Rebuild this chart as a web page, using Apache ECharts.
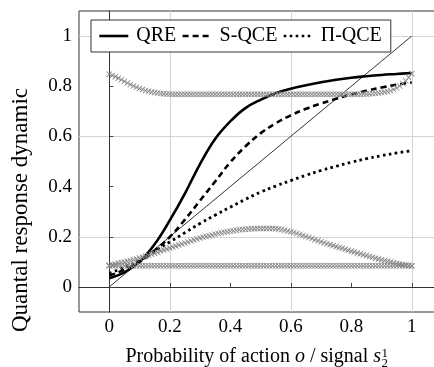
<!DOCTYPE html>
<html><head><meta charset="utf-8">
<script src="https://cdn.jsdelivr.net/npm/echarts@6/dist/echarts.min.js"></script>
<style>html,body{margin:0;padding:0;background:#fff}#c{width:434px;height:367px}</style>
</head><body><div id="c"></div>
<script>
const tickValues = [0, 0.2, 0.4, 0.6, 0.8, 1];
const curveX = [0,0.05,0.1,0.15,0.2,0.25,0.3,0.35,0.4,0.45,0.5,0.55,0.6,0.65,0.7,0.75,0.8,0.85,0.9,0.95,1];
const qre   = [0.035,0.058,0.100,0.170,0.265,0.372,0.490,0.590,0.660,0.713,0.746,0.772,0.790,0.804,0.816,0.826,0.834,0.840,0.845,0.849,0.853];
const sqce  = [0.045,0.068,0.100,0.145,0.199,0.268,0.344,0.420,0.497,0.560,0.612,0.652,0.684,0.710,0.731,0.750,0.767,0.782,0.795,0.806,0.815];
const piqce = [0.054,0.078,0.106,0.142,0.179,0.216,0.253,0.286,0.318,0.349,0.378,0.402,0.424,0.445,0.464,0.481,0.497,0.511,0.523,0.534,0.543];
const diagX = [0, 1];
const diagY = [0, 1];
const markX = [0,0.01,0.02,0.03,0.04,0.05,0.06,0.07,0.08,0.09,0.1,0.11,0.12,0.13,0.14,0.15,0.16,0.17,0.18,0.19,0.2,0.21,0.22,0.23,0.24,0.25,0.26,0.27,0.28,0.29,0.3,0.31,0.32,0.33,0.34,0.35,0.36,0.37,0.38,0.39,0.4,0.41,0.42,0.43,0.44,0.45,0.46,0.47,0.48,0.49,0.5,0.51,0.52,0.53,0.54,0.55,0.56,0.57,0.58,0.59,0.6,0.61,0.62,0.63,0.64,0.65,0.66,0.67,0.68,0.69,0.7,0.71,0.72,0.73,0.74,0.75,0.76,0.77,0.78,0.79,0.8,0.81,0.82,0.83,0.84,0.85,0.86,0.87,0.88,0.89,0.9,0.91,0.92,0.93,0.94,0.95,0.96,0.97,0.98,0.99,1];
const markUpper = [0.848,0.843,0.838,0.832,0.826,0.819,0.813,0.807,0.801,0.796,0.791,0.787,0.783,0.780,0.777,0.775,0.773,0.771,0.770,0.769,0.769,
  0.768,0.768,0.768,0.768,0.768,0.768,0.768,0.768,0.768,0.768,0.768,0.768,0.768,0.768,0.768,0.768,0.768,0.768,0.768,0.768,0.768,0.768,0.768,0.768,0.768,0.768,0.768,0.768,0.768,0.768,0.768,0.768,0.768,0.768,0.768,0.768,0.768,0.768,0.768,0.768,0.768,0.768,0.768,0.768,0.768,0.768,0.768,0.768,0.768,0.768,0.768,0.768,0.768,0.768,0.768,0.768,0.768,0.768,0.768,0.768,0.768,0.768,0.768,
  0.769,0.769,0.770,0.771,0.772,0.773,0.775,0.777,0.779,0.782,0.787,0.793,0.801,0.811,0.822,0.835,0.850];
const markFlat = [0.084,0.084,0.084,0.084,0.084,0.084,0.084,0.084,0.084,0.084,0.084,0.084,0.084,0.084,0.084,0.084,0.084,0.084,0.084,0.084,0.084,0.084,0.084,0.084,0.084,0.084,0.084,0.084,0.084,0.084,0.084,0.084,0.084,0.084,0.084,0.084,0.084,0.084,0.084,0.084,0.084,0.084,0.084,0.084,0.084,0.084,0.084,0.084,0.084,0.084,0.084,0.084,0.084,0.084,0.084,0.084,0.084,0.084,0.084,0.084,0.084,0.084,0.084,0.084,0.084,0.084,0.084,0.084,0.084,0.084,0.084,0.084,0.084,0.084,0.084,0.084,0.084,0.084,0.084,0.084,0.084,0.084,0.084,0.084,0.084,0.084,0.084,0.084,0.084,0.084,0.084,0.084,0.084,0.084,0.084,0.084,0.084,0.084,0.084,0.084,0.084];
const markHump = [0.086,0.088,0.091,0.094,0.097,0.099,0.102,0.105,0.108,0.111,0.115,0.118,0.122,0.126,0.130,0.134,0.138,0.143,0.147,0.151,0.155,0.159,0.163,0.167,0.171,0.175,0.179,0.183,0.187,0.191,0.195,0.198,0.201,0.204,0.207,0.210,0.213,0.216,0.218,0.220,0.222,0.224,0.226,0.228,0.229,0.230,0.231,0.232,0.232,0.233,0.233,0.233,0.233,0.233,0.233,0.232,0.231,0.229,0.226,0.223,0.220,0.217,0.213,0.209,0.205,0.201,0.197,0.193,0.188,0.184,0.180,0.176,0.172,0.169,0.165,0.161,0.157,0.154,0.150,0.146,0.142,0.139,0.135,0.132,0.128,0.125,0.121,0.118,0.114,0.111,0.108,0.105,0.102,0.099,0.096,0.093,0.091,0.089,0.087,0.085,0.083];

const FONT = '"Liberation Serif", "DejaVu Serif", serif';
const pairs = (xs, ys) => xs.map((x, i) => [x, ys[i]]);
const fmt = v => { const k = Math.round(v * 10); return (k % 2 === 0 && k >= 0 && k <= 10) ? String(+v.toFixed(1)) : ''; };
const cross = 'path://M0,1L1,0L5,4L9,0L10,1L6,5L10,9L9,10L5,6L1,10L0,9L4,5Z';
const GRAY = '#858585';

function axis(extra) {
  return Object.assign({
    type: 'value', min: -0.1, max: 1.1, interval: 0.1,
    axisLine: { show: true, lineStyle: { color: '#333', width: 1 } },
    axisTick: { show: true, inside: true, length: 4, customValues: tickValues, lineStyle: { color: '#444' } },
    splitLine: { show: true, lineStyle: { color: ['rgba(0,0,0,0)', '#d4d4d4'], width: 1 } },
    axisLabel: { customValues: tickValues, formatter: fmt, fontFamily: FONT, fontSize: 19, color: '#000' }
  }, extra);
}

const markSeries = ys => ({
  type: 'line', data: pairs(markX, ys), symbol: cross, symbolSize: 6, showSymbol: true,
  lineStyle: { width: 0, opacity: 0 }, itemStyle: { color: GRAY }, z: 5, silent: true, animation: false
});

const chart = echarts.init(document.getElementById('c'), null, { renderer: 'canvas' });
const xa = axis({ position: 'bottom' });
xa.axisLabel.margin = 6;
const ya = axis({ position: 'left' });
ya.axisLabel.margin = 7;
ya.axisLabel.padding = [6, 0, 0, 0];

chart.setOption({
  animation: false,
  backgroundColor: '#fff',
  grid: { left: 79, width: 363, top: 11, bottom: 55, show: true, borderColor: '#333', borderWidth: 1, containLabel: false, outerBoundsMode: 'none' },
  xAxis: xa,
  yAxis: ya,
  legend: {
    data: ['QRE', 'S-QCE', 'Π-QCE'], left: 91, top: 20, itemWidth: 29, itemHeight: 14, itemGap: 5,
    padding: [6, 9, 6, 7], borderColor: '#333', borderWidth: 1, backgroundColor: '#fff', borderRadius: 0,
    selectedMode: false, itemStyle: { opacity: 0 }, lineStyle: { width: 2.6 },
    textStyle: { fontFamily: FONT, fontSize: 20, color: '#000', padding: [0, 0, 0, 3] }
  },
  graphic: [
    { type: 'text', x: 381, y: 357, silent: true, style: {
      text: 'Probability of action {i|o} / signal {i|s}', fontFamily: FONT, fontSize: 20, fill: '#000',
      textAlign: 'right', textVerticalAlign: 'middle',
      rich: { i: { fontStyle: 'italic', fontFamily: FONT, fontSize: 20 } } } },
    { type: 'text', x: 381.5, y: 354, silent: true, style: { text: '1', fontFamily: FONT, fontSize: 13, fill: '#000', textAlign: 'left', textVerticalAlign: 'middle' } },
    { type: 'text', x: 381.5, y: 364, silent: true, style: { text: '2', fontFamily: FONT, fontSize: 13, fill: '#000', textAlign: 'left', textVerticalAlign: 'middle' } },
    { type: 'text', x: 21, y: 210, rotation: Math.PI / 2, silent: true, style: {
      text: 'Quantal response dynamic', fontFamily: FONT, fontSize: 23, fill: '#000', textAlign: 'center', textVerticalAlign: 'middle' } }
  ],
  series: [
    { name: 'diag', type: 'line', data: pairs(diagX, diagY), symbol: 'none', lineStyle: { color: '#000', width: 0.8 }, z: 3 },
    { name: 'QRE', type: 'line', data: pairs(curveX, qre), smooth: 0.4, symbol: 'none', lineStyle: { color: '#000', width: 2.6 }, itemStyle: { color: '#000' }, z: 4 },
    { name: 'S-QCE', type: 'line', data: pairs(curveX, sqce), smooth: 0.4, symbol: 'none', lineStyle: { color: '#000', width: 2.6, type: [6, 4] }, itemStyle: { color: '#000' }, z: 4 },
    { name: 'Π-QCE', type: 'line', data: pairs(curveX, piqce), smooth: 0.4, symbol: 'none', lineStyle: { color: '#000', width: 2.8, type: [2.6, 3.4], cap: 'butt' }, itemStyle: { color: '#000' }, z: 4 },
    markSeries(markUpper),
    markSeries(markFlat),
    markSeries(markHump)
  ]
});
</script>
</body></html>
